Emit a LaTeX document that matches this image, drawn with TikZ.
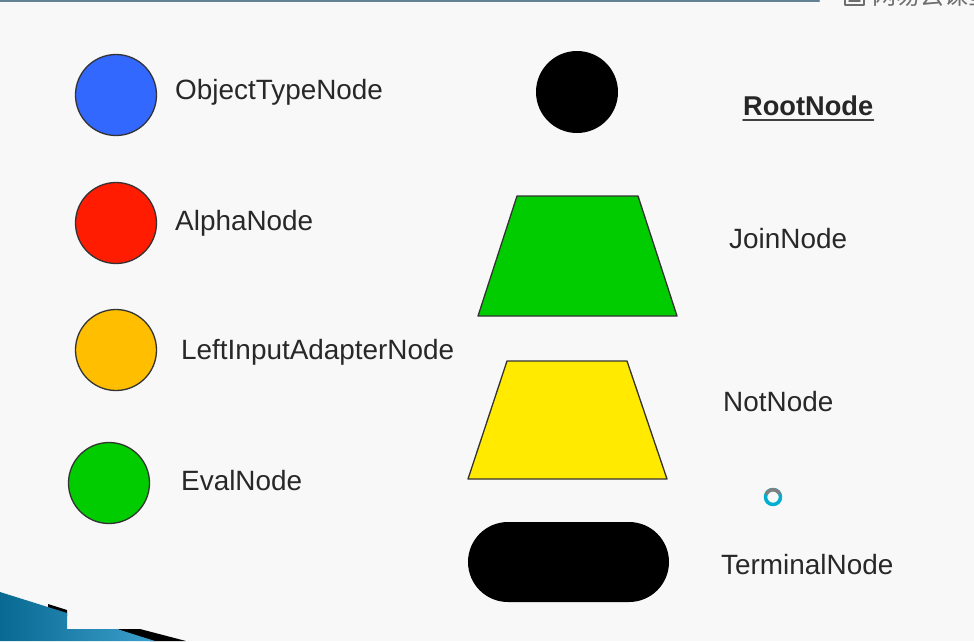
\documentclass[tikz,border=0pt]{standalone}
\usepackage{fontspec}
\setmainfont{Liberation Sans}
\newfontfamily\cjk{Noto Sans CJK SC}
\definecolor{bgcol}{RGB}{248,248,248}
\definecolor{otblue}{RGB}{51,104,255}
\definecolor{alphared}{RGB}{255,28,0}
\definecolor{liaorange}{RGB}{255,190,0}
\definecolor{evalgreen}{RGB}{0,204,0}
\definecolor{notyellow}{RGB}{255,234,0}
\definecolor{txtcol}{RGB}{40,40,40}
\definecolor{wmcol}{RGB}{110,110,110}
\definecolor{swooshdark}{RGB}{8,105,145}
\definecolor{swooshlight}{RGB}{60,160,205}
\begin{document}
\begin{tikzpicture}[x=1pt,y=-1pt,line join=round,line cap=round,
	lbl/.style={inner sep=0pt,anchor=base west,text=txtcol,font=\fontsize{27.9}{33}\selectfont},
	ball/.style={circle,draw=black!80,line width=1.3pt,minimum size=81pt,inner sep=0pt},
	outlined/.style={draw=black!80,line width=1.3pt}]
	\useasboundingbox (0,0) rectangle (974,641);
	\clip (0,0) rectangle (974,641);
	\fill[bgcol] (0,0) rectangle (974,641);
	% top rule and watermark
	\draw[color={rgb,255:red,100;green,130;blue,150},line width=2pt] (0,0.5)--(819,0.5);
	\draw[wmcol,line width=2pt] (845,-4) rectangle (864,5);
	\draw[wmcol,line width=1.5pt] (849,1)--(860,1);
	\node[inner sep=0pt,anchor=base west,text=wmcol,font=\cjk\fontsize{24}{24}\selectfont] (wm) at (872,4.5) {网易云课堂};
	% left column
	\node[ball,fill=otblue] (ot) at (116,95) {};
	\node[ball,fill=alphared] (alpha) at (116,223) {};
	\node[ball,fill=liaorange] (lia) at (116,350) {};
	\node[ball,fill=evalgreen] (eval) at (109,483) {};
	\node[lbl] (otn) at (175,99) {ObjectTypeNode};
	\node[lbl] (alphan) at (175,230) {AlphaNode};
	\node[lbl] (lian) at (181,359) {LeftInputAdapterNode};
	\node[lbl] (evaln) at (181,490) {EvalNode};
	% right column
	\node[circle,fill=black,minimum size=82pt,inner sep=0pt] (root) at (577,92) {};
	\draw[outlined,fill=evalgreen] (517,196)--(638,196)--(677,316)--(478,316)--cycle;
	\draw[outlined,fill=notyellow] (507,361)--(627,361)--(667,479)--(468,479)--cycle;
	\fill[black,rounded corners=40pt] (468,522) rectangle (669,602);
	\node[lbl,font=\bfseries\fontsize{27.2}{33}\selectfont,text=black!85] (rootn) at (743,115) {RootNode};
	\draw[black!75,line width=2pt] ([yshift=-5pt]rootn.base west)--([yshift=-5pt]rootn.base east);
	\node[lbl] (joinn) at (729,248) {JoinNode};
	\node[lbl] (notn) at (723,411) {NotNode};
	\node[lbl] (termn) at (721,574) {TerminalNode};
	% busy ring
	\draw[color={rgb,255:red,0;green,175;blue,205},line width=3.5pt] (773,497) circle (7.5);
	\draw[gray,line width=3.5pt] (766.5,493.5) arc (210:330:7.5);
	% bottom swoosh
	\fill[black] (48,604)--(67,610)--(67,616)--(48,609)--cycle;
	\fill[black] (117,629)--(140,629)--(186,641)--(150,641)--cycle;
	\shade[left color=swooshdark,right color=swooshlight] (0,592)--(67,613)--(67,629)--(117,629)--(155,641)--(0,641)--cycle;
\end{tikzpicture}
\end{document}
